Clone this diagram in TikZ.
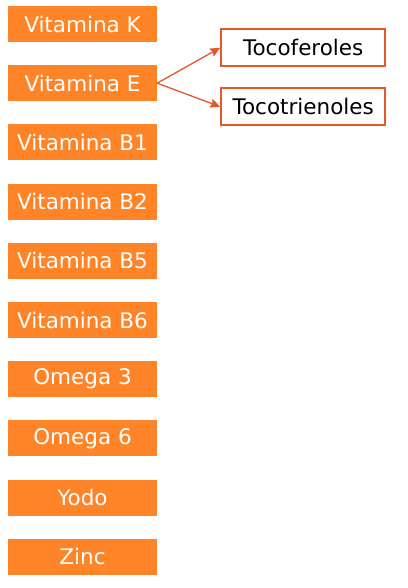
\documentclass[tikz,border=0pt]{standalone}
\usepackage{fontspec}
\setmainfont{DejaVu Sans}
\usetikzlibrary{positioning,arrows.meta}

\definecolor{naranja}{HTML}{FF8427}
\definecolor{rojizo}{HTML}{E8552B}

\tikzset{
  vit/.style={rectangle,fill=naranja,text=white,minimum width=149pt,
              minimum height=36pt,inner sep=0pt,
              font=\fontsize{21.5}{25}\selectfont},
  toco/.style={rectangle,draw=rojizo,line width=2pt,fill=white,text=black,
               minimum width=164pt,minimum height=37pt,inner sep=0pt,
               font=\fontsize{21.5}{25}\selectfont},
  flecha/.style={draw=rojizo,line width=1.3pt,
                 -{Stealth[length=10pt,width=9pt,inset=1.5pt]}}
}

\begin{document}
\begin{tikzpicture}[x=1pt,y=-1pt,node distance=59.2pt]

    \useasboundingbox (0,0) rectangle (407,588);

    \node[vit] (vk) at (82.5,24) {Vitamina K};
    \node[vit,below of=vk] (ve) {Vitamina E};
    \node[vit,below of=ve] (vb1) {Vitamina B1};
    \node[vit,below of=vb1] (vb2) {Vitamina B2};
    \node[vit,below of=vb2] (vb5) {Vitamina B5};
    \node[vit,below of=vb5] (vb6) {Vitamina B6};
    \node[vit,below of=vb6] (om3) {Omega 3};
    \node[vit,below of=om3] (om6) {Omega 6};
    \node[vit,below of=om6] (yodo) {Yodo};
    \node[vit,below of=yodo] (zinc) {Zinc};

    % formas de la vitamina E
    \node[toco,right=63pt of ve,yshift=35.5pt] (tcf) {Tocoferoles};
    \node[toco,right=63pt of ve,yshift=-23.5pt] (tct) {Tocotrienoles};

    \draw[flecha] (ve.east) -- (tcf.west);
    \draw[flecha] (ve.east) -- (tct.west);

\end{tikzpicture}
\end{document}
